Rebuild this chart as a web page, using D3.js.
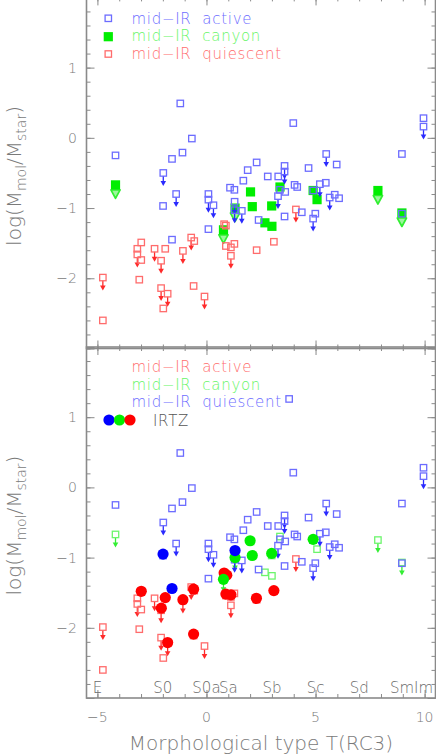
<!DOCTYPE html>
<html><head><meta charset="utf-8">
<script src="https://cdn.jsdelivr.net/npm/d3@7"></script>
<style>html,body{margin:0;padding:0;background:#fff;} svg{display:block;}</style>
</head><body>
<script>
// ---------------- DATA ----------------
// [T(RC3), log(Mmol/Mstar), upperLimit(1/0)]
const activeSquares = [
  [-4.17,-0.25,0],[-1.98,-0.50,1],[-1.99,-0.97,0],[-1.20,0.49,0],[-0.67,-0.01,0],
  [-1.10,-0.21,0],[-1.58,-0.30,0],[-1.39,-0.80,1],[0.09,-0.80,0],[0.09,-0.88,1],
  [0.32,-0.96,1],[0.09,-1.30,0],[-1.58,-1.45,0],[1.08,-0.71,0],[1.28,-0.74,0],
  [1.69,-0.61,0],[1.89,-0.46,0],[2.30,-0.35,0],[1.29,-0.91,1],[1.29,-1.03,1],
  [1.62,-1.04,1],[2.39,-1.17,0],[3.58,-1.12,0],[3.28,-0.83,1],[4.04,-0.67,0],
  [4.16,-0.70,0],[3.61,-0.77,0],[4.37,-1.06,0],[4.99,-1.08,0],[4.89,-1.15,1],
  [5.20,-0.66,1],[5.47,-0.64,0],[5.65,-0.85,1],[5.88,-0.81,0],[6.08,-0.86,0],
  [4.89,-0.75,0],[8.96,-1.08,0],[3.98,0.21,0],[9.95,0.28,0],[9.95,0.16,1],
  [8.96,-0.23,0],[5.49,-0.23,1],[5.97,-0.38,0],[4.68,-0.43,0],[3.58,-0.40,1],
  [3.58,-0.48,1],[2.81,-0.55,0],[3.29,-0.55,0],[3.37,-0.74,0]
];
const quiescentSquares = [
  [-4.75,-1.99,1],[-4.75,-2.60,0],[-3.17,-1.58,0],[-3.17,-1.66,1],[-2.99,-1.49,0],
  [-2.99,-1.74,0],[-3.08,-2.02,0],[-2.38,-1.58,1],[-1.89,-1.58,0],[-2.08,-1.75,1],
  [-2.08,-2.14,1],[-1.78,-2.22,1],[-1.98,-2.43,0],[-1.08,-1.61,1],[-0.70,-1.42,1],
  [-0.56,-1.47,0],[-0.59,-2.11,0],[-0.09,-2.26,1],[0.81,-1.23,0],[0.89,-1.25,0],
  [0.89,-1.54,0],[1.12,-1.56,0],[1.28,-1.51,0],[1.12,-1.68,1],[2.30,-1.60,0],
  [3.09,-1.48,0],[4.10,-1.02,1]
];
const canyonSquares = [
  [-4.17,-0.67,1],[2.02,-0.77,0],[2.10,-0.98,0],[2.99,-0.97,0],[2.68,-1.21,0],
  [3.00,-1.26,0],[3.37,-0.70,0],[0.78,-1.31,1],[1.31,-1.00,1],[4.89,-0.75,0],
  [5.07,-0.88,0],[7.86,-0.75,1],[8.96,-1.07,1]
];
const bottomOnlySquares = [[3.79,1.26,0]];
const irtzRed = [
  [-2.99,-1.48],[-1.89,-1.57],[-2.07,-1.72],[-1.08,-1.60],[-0.59,-1.45],[-1.78,-2.21],
  [-0.59,-2.09],[0.81,-1.22],[0.93,-1.25],[0.89,-1.52],[1.12,-1.53],[2.29,-1.58],[3.09,-1.47]
];
const irtzGreen = [[1.31,-1.00],[0.78,-1.31],[2.00,-0.76],[2.10,-0.97],[2.99,-0.94],[4.89,-0.74]];
const irtzBlue = [[-1.99,-0.95],[-1.58,-1.44],[1.31,-0.90]];

const xTickValues = [-5, 0, 5, 10];
const yTickLabelValues = [-2, -1, 0, 1];
const typeNames = ["E","S0","S0a","Sa","Sb","Sc","Sd","SmIm"];
const typeT = [-5, -2, 0, 1, 3, 5, 7, 9.4];
const topLegendLabels = ["mid\u2212IR  active","mid\u2212IR  canyon","mid\u2212IR  quiescent"];
const bottomLegendLabels = ["mid\u2212IR  active","mid\u2212IR  canyon","mid\u2212IR  quiescent"];
const irtzLabel = "IRTZ";
const xTitle = "Morphological type T(RC3)";

// ---------------- DRAW ----------------
const W = 436, H = 755;
const FONT = "'DejaVu Sans', sans-serif";
const AX = "#8a8a8a", TXT = "#7a7a7a";
const C = {
  blueSq:"#6c6cff", blueArr:"#2a2aff", redSq:"#ff6c6c", redArr:"#ff2a2a",
  green:"#00ee00", greenOpen:"#6cf56c", greenArr:"#33ee33",
  blueTxt:"#6c6cff", greenTxt:"#66f566", redTxt:"#ff6c6c"
};
const svg = d3.select("body").append("svg").attr("width", W).attr("height", H);
const x = d3.scaleLinear().domain([-5.5, 10.5]).range([86.5, 435.5]);
const yTop = d3.scaleLinear().domain([-3, 2]).range([348.5, -2.6]);
const yBot = d3.scaleLinear().domain([-3, 2]).range([698, 347]);

function frame(y) {
  const g = svg.append("g");
  const [y0, y1] = y.range();
  const minorY = d3.range(-3, 2.0001, 0.2).map(v => Math.round(v*10)/10);
  const majorY = minorY.filter(v => Math.abs(v - Math.round(v)) < 1e-6);
  const minorX = d3.range(-5, 11, 1);
  const majorX = minorX.filter(v => v % 5 === 0);
  const styleAxis = sel => { sel.select(".domain").remove(); sel.selectAll("line").attr("stroke", AX).attr("stroke-width", 1); sel.selectAll("text").remove(); };
  g.append("g").attr("transform", `translate(${x.range()[0]},0)`).call(d3.axisLeft(y).tickValues(minorY).tickSize(-4)).call(styleAxis);
  g.append("g").attr("transform", `translate(${x.range()[0]},0)`).call(d3.axisLeft(y).tickValues(majorY).tickSize(-8)).call(styleAxis);
  g.append("g").attr("transform", `translate(${x.range()[1]},0)`).call(d3.axisRight(y).tickValues(minorY).tickSize(-4)).call(styleAxis);
  g.append("g").attr("transform", `translate(${x.range()[1]},0)`).call(d3.axisRight(y).tickValues(majorY).tickSize(-8)).call(styleAxis);
  g.append("g").attr("transform", `translate(0,${y0})`).call(d3.axisBottom(x).tickValues(minorX).tickSize(-4)).call(styleAxis);
  g.append("g").attr("transform", `translate(0,${y0})`).call(d3.axisBottom(x).tickValues(majorX).tickSize(-8)).call(styleAxis);
  g.append("g").attr("transform", `translate(0,${y1})`).call(d3.axisTop(x).tickValues(minorX).tickSize(-4)).call(styleAxis);
  g.append("g").attr("transform", `translate(0,${y1})`).call(d3.axisTop(x).tickValues(majorX).tickSize(-8)).call(styleAxis);
  g.append("rect").attr("x", x.range()[0]).attr("y", y1).attr("width", x.range()[1]-x.range()[0]).attr("height", y0-y1)
    .attr("fill", "none").attr("stroke", AX).attr("stroke-width", 1.6);
  g.selectAll(".yl").data(yTickLabelValues).join("text")
    .attr("x", 77).attr("y", d => y(d) + 5).attr("text-anchor", "end")
    .attr("font-family", FONT).attr("font-size", 14).attr("font-weight", 300).attr("fill", TXT)
    .text(d => d < 0 ? "\u2212" + Math.abs(d) : d);
  const t = g.append("text").attr("transform", `translate(20.5,${(y0+y1)/2 + 3}) rotate(-90)`)
    .attr("text-anchor", "middle").attr("font-family", FONT).attr("font-size", 20).attr("font-weight", 300).attr("fill", TXT);
  t.append("tspan").text("log(M");
  t.append("tspan").attr("font-size", 14).attr("dy", 5).text("mol");
  t.append("tspan").attr("dy", -5).text("/M");
  t.append("tspan").attr("font-size", 14).attr("dy", 5).text("star");
  t.append("tspan").attr("dy", -5).text(")");
}

function arrow(g, cx, cy, color, len) {
  g.append("line").attr("x1", cx).attr("x2", cx).attr("y1", cy + 3).attr("y2", cy + len - 2)
    .attr("stroke", color).attr("stroke-width", 1.3);
  g.append("path").attr("d", `M${cx-2.8},${cy+len-5}L${cx+2.8},${cy+len-5}L${cx},${cy+len}Z`).attr("fill", color);
}

function openSquares(y, data, stroke, arrColor) {
  const g = svg.append("g");
  data.forEach(d => { if (d[2]) arrow(g, x(d[0]), y(d[1]), arrColor, 13); });
  g.selectAll("rect").data(data).join("rect")
    .attr("x", d => x(d[0]) - 3.2).attr("y", d => y(d[1]) - 3.2).attr("width", 6.4).attr("height", 6.4)
    .attr("fill", "none").attr("stroke", stroke).attr("stroke-width", 1.3);
}

function filledSquares(y, data) {
  const g = svg.append("g");
  data.forEach(d => {
    if (d[2]) {
      const cx = x(d[0]), cy = y(d[1]);
      g.append("path").attr("d", `M${cx-4.6},${cy+5}L${cx+4.6},${cy+5}L${cx},${cy+13.5}Z`)
        .attr("fill", "#9cf79c").attr("stroke", C.greenArr).attr("stroke-width", 1.7).attr("stroke-linejoin", "round");
    }
  });
  g.selectAll("rect").data(data).join("rect")
    .attr("x", d => x(d[0]) - 4.6).attr("y", d => y(d[1]) - 4.6).attr("width", 9.2).attr("height", 9.2)
    .attr("fill", C.green);
}

function circles(y, data, fill) {
  svg.append("g").selectAll("circle").data(data).join("circle")
    .attr("cx", d => x(d[0])).attr("cy", d => y(d[1])).attr("r", 5.6).attr("fill", fill);
}

// ----- top panel -----
frame(yTop);
filledSquares(yTop, canyonSquares);
openSquares(yTop, quiescentSquares, C.redSq, C.redArr);
openSquares(yTop, activeSquares, C.blueSq, C.blueArr);

const tl = svg.append("g");
const legendColors = [C.blueTxt, C.greenTxt, C.redTxt];
const topBase = [23.5, 41, 58.5];
tl.append("rect").attr("x", 105.1).attr("y", 15.1).attr("width", 6.4).attr("height", 6.4).attr("fill", "none").attr("stroke", C.blueSq).attr("stroke-width", 1.3);
tl.append("rect").attr("x", 103.7).attr("y", 32.1).attr("width", 9.2).attr("height", 9.2).attr("fill", C.green);
tl.append("rect").attr("x", 105.1).attr("y", 50.8).attr("width", 6.4).attr("height", 6.4).attr("fill", "none").attr("stroke", C.redSq).attr("stroke-width", 1.3);
tl.selectAll("text").data(topLegendLabels).join("text")
  .attr("x", 131.5).attr("y", (d, i) => topBase[i]).attr("xml:space", "preserve")
  .attr("font-family", FONT).attr("font-size", 15).attr("font-weight", 300).attr("letter-spacing", 0.7)
  .attr("fill", (d, i) => legendColors[i]).text(d => d);

// ----- bottom panel -----
frame(yBot);
openSquares(yBot, canyonSquares, C.greenOpen, C.greenArr);
openSquares(yBot, quiescentSquares, C.redSq, C.redArr);
openSquares(yBot, activeSquares.concat(bottomOnlySquares), C.blueSq, C.blueArr);
circles(yBot, irtzRed, "#ff0000");
circles(yBot, irtzGreen, "#00ee00");
circles(yBot, irtzBlue, "#0000ff");

const bl = svg.append("g");
const bottomColors = [C.redTxt, C.greenTxt, C.blueTxt];
const botBase = [372, 389.5, 407];
bl.selectAll("text").data(bottomLegendLabels).join("text")
  .attr("x", 131.5).attr("y", (d, i) => botBase[i]).attr("xml:space", "preserve")
  .attr("font-family", FONT).attr("font-size", 15).attr("font-weight", 300).attr("letter-spacing", 0.7)
  .attr("fill", (d, i) => bottomColors[i]).text(d => d);
[["#0000ff",109],["#00ee00",119.5],["#ff0000",130]].forEach(([c, cx]) =>
  bl.append("circle").attr("cx", cx).attr("cy", 420).attr("r", 5.6).attr("fill", c));
bl.append("text").attr("x", 153).attr("y", 425.5).attr("font-family", FONT).attr("font-size", 15)
  .attr("font-weight", 300).attr("letter-spacing", 0.7).attr("fill", "#555").text(irtzLabel);

svg.append("g").selectAll("text").data(typeNames).join("text")
  .attr("x", (d, i) => x(typeT[i])).attr("y", 693).attr("text-anchor", "middle")
  .attr("font-family", FONT).attr("font-size", 15).attr("font-weight", 300).attr("fill", "#6a6a6a").text(d => d);

svg.append("g").selectAll("text").data(xTickValues).join("text")
  .attr("x", d => x(d)).attr("y", 722).attr("text-anchor", "middle")
  .attr("font-family", FONT).attr("font-size", 14).attr("font-weight", 300).attr("fill", TXT)
  .text(d => d < 0 ? "\u2212" + Math.abs(d) : d);
svg.append("text").attr("x", 261).attr("y", 750).attr("text-anchor", "middle")
  .attr("font-family", FONT).attr("font-size", 20).attr("font-weight", 300).attr("fill", TXT).text(xTitle);
</script>
</body></html>
